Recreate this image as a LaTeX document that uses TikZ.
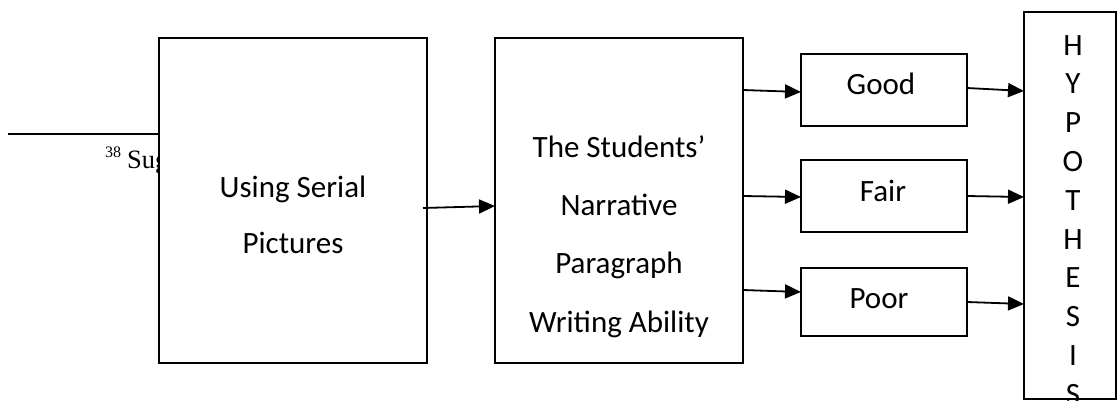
\documentclass[tikz,border=0pt]{standalone}
\usepackage{fontspec}
\setmainfont{Carlito}
\newfontfamily\fnfont{Liberation Serif}
\usetikzlibrary{arrows.meta}
\begin{document}
\begin{tikzpicture}[x=1pt,y=-1pt,
  box/.style={draw, line width=2pt, fill=white, inner sep=0pt, outer sep=0pt, rectangle},
  txt/.style={anchor=base, inner sep=0pt, font=\fontsize{31}{37}\selectfont},
  fn/.style={anchor=base west, inner sep=0pt},
  arr/.style={line width=1.8pt, -{Triangle[length=16pt,width=14pt]}}]
\useasboundingbox (0,0) rectangle (1117,400);
% footnote remnant
\coordinate (fnL) at (8,134);
\coordinate (fnR) at (159,134);
\draw[line width=1.6pt] (fnL) -- (fnR);
\node[fn, font=\fnfont\fontsize{16}{18}\selectfont] (fnnum) at (105,157) {38};
\node[fn, font=\fnfont\fontsize{26.5}{30}\selectfont] (fntext) at (127,168) {Sug};
% boxes
\node[box, minimum width=268pt, minimum height=325pt] (b1) at (293,200.5) {};
\node[box, minimum width=248pt, minimum height=325pt] (b2) at (619,200.5) {};
\node[box, minimum width=166pt, minimum height=72pt] (good) at (884,90) {};
\node[box, minimum width=166pt, minimum height=72pt] (fair) at (884,196) {};
\node[box, minimum width=166pt, minimum height=68pt] (poor) at (884,302) {};
\node[box, minimum width=92pt, minimum height=387pt] (hyp) at (1070,205.5) {};
% texts
\node[txt] (t1a) at (293,197) {Using Serial};
\node[txt] (t1b) at (293,253) {Pictures};
\node[txt] (t2a) at (619,157) {The Students’};
\node[txt] (t2b) at (619,215) {Narrative};
\node[txt] (t2c) at (619,273) {Paragraph};
\node[txt] (t2d) at (619,332) {Writing Ability};
\node[txt] (tg) at (881,94) {Good};
\node[txt] (tf) at (883,201) {Fair};
\node[txt] (tp) at (879,308) {Poor};
\foreach \l [count=\i] in {H,Y,P,O,T,H,E,S,I,S}
  \node[txt] (h\i) at (1073,{55+(\i-1)*38.8}) {\l};
% arrows
\draw[arr] ([shift={(-4,7.5)}]b1.east) -- ([shift={(0,5.5)}]b2.west);
\draw[arr] ([shift={(0,-110.5)}]b2.east) -- ([shift={(0,2)}]good.west);
\draw[arr] ([shift={(0,-4.5)}]b2.east) -- ([shift={(0,1)}]fair.west);
\draw[arr] ([shift={(0,89.5)}]b2.east) -- ([shift={(0,-10)}]poor.west);
\draw[arr] ([shift={(0,-2)}]good.east) -- ([shift={(0,-114.5)}]hyp.west);
\draw[arr] (fair.east) -- ([shift={(0,-8.5)}]hyp.west);
\draw[arr] (poor.east) -- ([shift={(0,98.5)}]hyp.west);
\end{tikzpicture}
\end{document}
